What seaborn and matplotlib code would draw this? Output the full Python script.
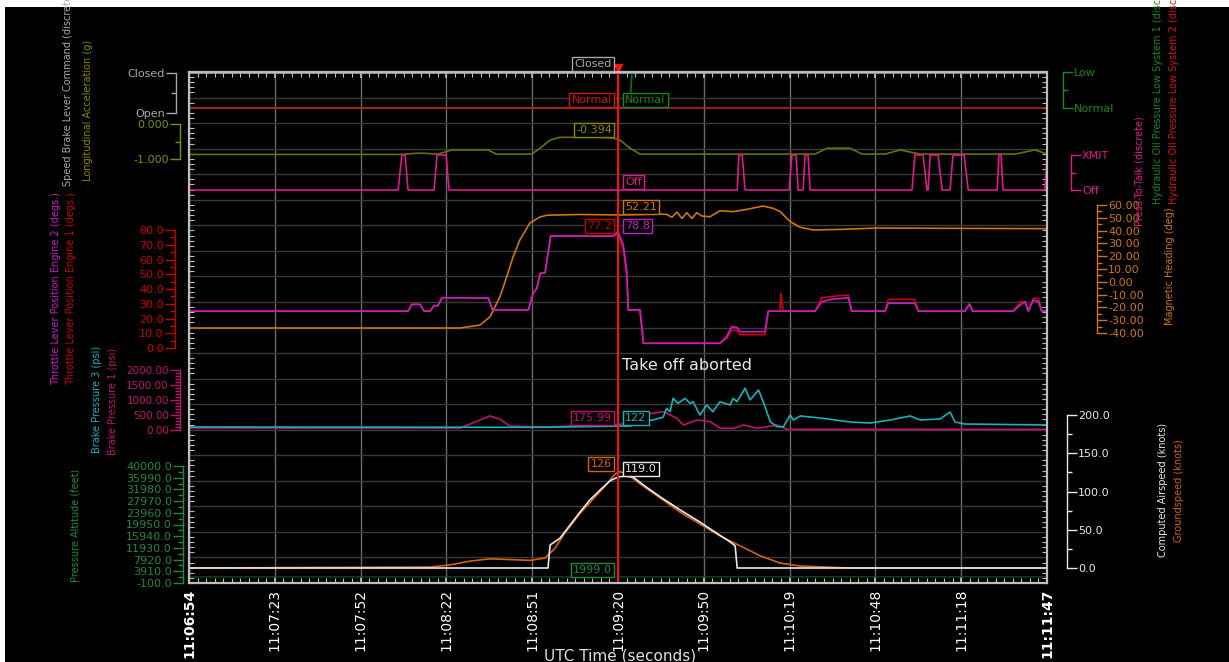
import numpy as np
import pandas as pd
import matplotlib
matplotlib.use("Agg")
import matplotlib.pyplot as plt
import seaborn as sns
from matplotlib.patches import Rectangle

# ---------------- data (time in seconds after 11:06:54) ----------------
TIME_LABELS = ['11:06:54', '11:07:23', '11:07:52', '11:08:22', '11:08:51', '11:09:20',
               '11:09:50', '11:10:19', '11:10:48', '11:11:18', '11:11:47']
T_END = 293.0
CURSOR_T = 146.5

brake_lever_t = [0, 293]
brake_lever_v = [1, 1]           # 1 = Closed, 0 = Open

hyd1_t = [0, 150.5, 151.3, 293]
hyd1_v = [0, 0, 1, 1]            # 0 = Normal, 1 = Low
hyd2_t = [0, 293]
hyd2_v = [0, 0]

acc_t = [0, 72.1, 78.9, 85.0, 89.8, 102.1, 104.9, 117.1, 119.9, 123.3, 126.7, 140.4, 144.5,
         147.2, 150.6, 154.0, 213.8, 217.9, 225.7, 229.9, 237.7, 242.8, 249.7, 282.1, 288.9, 293]
acc_v = [-0.87, -0.87, -0.83, -0.86, -0.74, -0.74, -0.86, -0.86, -0.69, -0.46, -0.38, -0.38, -0.394,
         -0.46, -0.69, -0.86, -0.86, -0.69, -0.69, -0.86, -0.86, -0.74, -0.86, -0.86, -0.74, -0.86]

ptt_t = [0, 71.4, 72.7, 73.8, 74.8, 83.7, 84.7, 87.8, 88.8, 187.2, 187.8, 188.9, 189.9,
         204.9, 205.9, 207.3, 208.0, 209.7, 210.4, 211.4, 212.1, 246.9, 247.9, 250.7, 252.0,
         252.4, 253.1, 255.8, 257.2, 259.9, 260.9, 264.7, 266.1, 276.0, 276.6, 277.3, 278.0,
         292.3, 293.0]
ptt_v = [0, 0, 1, 1, 0, 0, 1, 1, 0, 0, 1, 1, 0,
         0, 1, 1, 0, 0, 1, 1, 0, 0, 1, 1, 0,
         0, 1, 1, 0, 0, 1, 1, 0, 0, 1, 1, 0,
         0, 1]

hdg_t = [0, 92.6, 99.4, 102.8, 106.2, 108.5, 110.7, 113.0, 116.4, 119.8, 122.2, 133.5, 147.2,
         160.9, 163.2, 164.9, 166.6, 168.3, 170.0, 171.7, 173.4, 175.1, 177.9, 181.3, 185.8,
         190.5, 196.1, 199.5, 201.9, 205.3, 208.7, 213.2, 223.5, 234.9, 293]
hdg_v = [-36.1, -36.1, -33.8, -27.3, -11.6, 4.0, 19.6, 32.7, 45.9, 50.6, 52.0, 52.6, 52.2,
         53.0, 52.6, 50.4, 54.5, 49.5, 54.0, 49.5, 54.0, 51.4, 50.8, 55.5, 54.8,
         56.6, 59.2, 57.4, 54.8, 47.0, 42.6, 40.5, 41.0, 42.0, 41.5]

thr1_t = [0, 74.8, 76.1, 78.9, 80.3, 82.3, 83.7, 85.0, 86.4, 102.2, 103.7, 115.9, 117.5, 118.8,
          119.9, 121.6, 123.5, 144.9, 146.5, 148.3, 149.5, 150.0, 154.0, 155.2, 181.3, 183.6,
          185.3, 187.1, 188.2, 196.7, 197.8, 201.8, 202.1, 202.9, 213.8, 216.1, 221.2, 225.2,
          226.3, 237.7, 238.8, 247.9, 249.1, 265.0, 266.5, 267.6, 281.5, 283.8, 285.5, 286.6,
          288.3, 290.1, 291.2, 293]
thr1_v = [25, 25, 29.6, 29.6, 25, 25, 28.7, 28.7, 34.1, 33.9, 25.8, 25.8, 37.1, 40.5,
          50.6, 51.1, 75.9, 75.9, 77.2, 66.4, 48.3, 25.8, 25.8, 3.2, 3.2, 6.5,
          12.0, 12.0, 9.0, 9.0, 25, 25, 37.1, 25, 25, 34.1, 35.3, 35.9,
          25, 25, 33.0, 33.0, 25, 25, 29.8, 25, 25, 31.4, 31.4, 25,
          33.7, 33.7, 25, 25]

thr2_t = [0, 74.8, 76.1, 78.9, 80.3, 82.3, 83.7, 85.0, 86.4, 102.2, 103.7, 115.9, 117.5, 118.8,
          119.9, 121.6, 123.5, 144.9, 146.5, 148.3, 149.5, 150.0, 154.0, 155.2, 181.3, 183.6,
          185.3, 187.1, 188.2, 196.7, 197.8, 213.8, 216.1, 219.5, 225.2, 226.3, 237.7, 238.8,
          247.9, 249.1, 265.0, 266.5, 267.6, 281.5, 283.8, 285.5, 286.6, 288.3, 290.1, 291.2, 293]
thr2_v = [25, 25, 29.6, 29.6, 25, 25, 28.7, 28.7, 34.1, 33.9, 25.8, 25.8, 37.1, 40.5,
          50.6, 51.1, 75.9, 75.9, 78.8, 70.0, 52.0, 25.8, 25.8, 3.2, 3.2, 7.7,
          14.4, 14.0, 11.1, 11.1, 25, 25, 31.4, 33.0, 34.1, 25, 25, 30.3,
          30.3, 25, 25, 29.8, 25, 25, 29.2, 31.4, 25, 32.5, 31.4, 25, 25]

bp3_t = [0, 119.9, 150.6, 151.6, 154.0, 158.4, 161.9, 163.1, 164.3, 165.3, 167.0, 169.4, 171.1,
         172.1, 174.5, 176.8, 178.9, 181.3, 184.8, 185.8, 187.1, 188.2, 189.9, 191.6, 194.5,
         196.1, 198.5, 200.8, 203.0, 205.3, 206.4, 208.7, 215.5, 225.8, 232.6, 239.4, 242.8,
         246.3, 249.7, 256.5, 259.9, 261.6, 265.0, 293]
bp3_v = [100, 90, 133, 167, 277, 333, 423, 723, 610, 1057, 890, 1057, 890,
         943, 500, 833, 610, 943, 833, 1057, 943, 1110, 1390, 1000, 1333,
         943, 277, 110, 110, 500, 333, 467, 400, 267, 233, 333, 400,
         467, 333, 367, 600, 267, 200, 167]

bp1_t = [0, 92.6, 97.7, 102.8, 106.2, 109.6, 119.9, 146.5, 151.3, 154.0, 162.1, 166.6, 168.9,
         173.5, 178.0, 181.4, 186.0, 189.4, 193.9, 200.8, 204.2, 207.6, 293]
bp1_v = [67, 67, 267, 467, 357, 133, 100, 176, 260, 500, 610, 390, 167,
         333, 277, 57, 57, 167, 57, 167, 23, 23, 23]

alt_t = [0, 100, 146.5, 200, 293]
alt_v = [1990, 2000, 1999, 2010, 2000]

cas_t = [0, 122.6, 123.3, 126.7, 130.1, 133.5, 136.9, 140.4, 143.8, 146.5, 148.9, 151.6, 155.7,
         160.9, 167.7, 174.5, 179.6, 184.8, 186.5, 187.2, 293]
cas_v = [0, 0, 30, 39, 56, 73, 89, 102, 114, 119, 120, 119, 107,
         93, 76, 60, 47, 34, 29, 0, 0]

gs_t = [0, 82.3, 89.1, 96.0, 102.8, 116.5, 121.6, 125.0, 128.4, 133.5, 138.7, 142.1, 145.5,
        147.2, 149.9, 154.0, 160.9, 167.7, 174.5, 181.3, 188.2, 195.0, 201.8, 208.7, 225.8, 293]
gs_v = [0, 1.3, 4, 9, 12, 10, 13, 26, 46, 71, 93, 107, 123,
        126, 122, 110, 91.5, 73, 57.5, 42, 29, 16, 6.5, 2.6, 0, 0]

# ---------------- colours ----------------
C_GREY = '#a8a8a8'
C_OLIVE = '#8a8a00'
C_PTT = '#e0188c'
C_HYD1 = '#168a16'
C_HYD2 = '#d01414'
C_HYD2_LINE = '#c0200a'
C_HDG = '#d2740c'
C_THR1 = '#cc0000'
C_THR2 = '#c81ec8'
C_BP3 = '#12b4bc'
C_BP1 = '#c2126e'
C_ALT = '#1c8c3c'
C_CAS = '#e8e8e8'
C_GS = '#d8600e'
C_CURSOR = '#ff1010'
C_FRAME = '#bdbdbd'

# ---------------- figure ----------------
W, H = 1229, 662
sns.set_theme(style='ticks')
plt.rcParams['font.family'] = ['DejaVu Sans']

L, R, TOP, BOT = 189, 1047, 72, 583
RECT = [L / W, 1 - BOT / H, (R - L) / W, (BOT - TOP) / H]

fig = plt.figure(figsize=(W / 100, H / 100), dpi=100, facecolor='white')
fig.patches.append(Rectangle((5 / W, 0), 1 - 5 / W, 1 - 7 / H, transform=fig.transFigure,
                             facecolor='black', edgecolor='none', zorder=-10))

ax0 = fig.add_axes(RECT)
ax0.set_facecolor('black')
ax0.set_xlim(0, T_END)
ax0.set_ylim(0, 20)
xt = np.linspace(0, T_END, len(TIME_LABELS))
ax0.set_xticks(xt)
ax0.set_xticklabels(TIME_LABELS)
ax0.set_xticks(np.linspace(0, T_END, 101), minor=True)
ax0.set_yticks(np.arange(1, 20))
ax0.set_yticks(np.linspace(0, 20, 101), minor=True)
for sp in ax0.spines.values():
    sp.set_color(C_FRAME)
    sp.set_linewidth(1.2)
ax0.tick_params(axis='both', which='minor', direction='in', length=3.5, width=0.8,
                color=C_FRAME, top=True, right=True, bottom=True, left=True)
ax0.tick_params(axis='y', which='major', length=0, labelleft=False)
ax0.tick_params(axis='x', which='major', direction='in', length=4, color=C_FRAME,
                labelcolor='white', labelsize=10, labelrotation=90, pad=4, top=True)
for i, lab in enumerate(ax0.get_xticklabels()):
    lab.set_fontweight('bold' if i in (0, len(TIME_LABELS) - 1) else 'normal')
ax0.yaxis.grid(True, color='#3a3a3a', lw=1.0)
ax0.xaxis.grid(True, color='#6a6a6a', lw=1.0)


def channel(side, out_px, v0, p0, v1, p1, major, minor, color, labels=None, fmt='{:.1f}', size=8):
    ax = fig.add_axes(RECT, sharex=ax0)
    ax.patch.set_visible(False)
    s = (v1 - v0) / (p1 - p0)
    ax.set_ylim(v0 + (BOT - p0) * s, v0 + (TOP - p0) * s)
    for k, sp in ax.spines.items():
        sp.set_visible(k == side)
    sp = ax.spines[side]
    sp.set_position(('outward', out_px * 0.72))
    sp.set_bounds(min(v0, v1), max(v0, v1))
    sp.set_color(color)
    sp.set_linewidth(1.0)
    ax.yaxis.set_ticks_position(side)
    ax.set_yticks(major)
    ax.set_yticks(minor, minor=True)
    ax.set_yticklabels(labels if labels else [fmt.format(v) for v in major])
    ax.tick_params(axis='y', which='major', direction='out', length=7, width=1,
                   color=color, labelcolor=color, labelsize=size, pad=1)
    ax.tick_params(axis='y', which='minor', direction='out', length=3.5, width=1, color=color)
    ax.tick_params(axis='x', which='both', bottom=False, top=False, labelbottom=False)
    return ax


def line(ax, t, v, color, lw=1.2):
    df = pd.DataFrame({'t': t, 'v': v})
    sns.lineplot(data=df, x='t', y='v', ax=ax, color=color, lw=lw, estimator=None,
                 errorbar=None, legend=False)
    ax.set_xlabel('')
    ax.set_ylabel('')


# speed brake
ax_sb = channel('left', 13, 0, 113, 1, 72.5, [0, 1], [0.5], C_GREY, labels=['Open', 'Closed'])
line(ax_sb, brake_lever_t, brake_lever_v, C_GREY)
# hydraulic
ax_hy = channel('right', 16, 0, 108, 1, 72.3, [0, 1], [0.5], C_HYD1, labels=['Normal', 'Low'])
line(ax_hy, hyd1_t, hyd1_v, '#0f700f')
line(ax_hy, hyd2_t, hyd2_v, C_HYD2_LINE)
# longitudinal acceleration
ax_ac = channel('left', 9, 0, 124, -1, 159, [-1, 0], [-0.5], C_OLIVE, fmt='{:.3f}')
line(ax_ac, acc_t, acc_v, '#6e6e00')
# press to talk
ax_pt = channel('right', 24, 0, 190, 1, 155, [0, 1], [0.5], C_PTT, labels=['Off', 'XMIT'])
line(ax_pt, ptt_t, ptt_v, C_PTT)
# heading
ax_hd = channel('right', 50, -40, 333, 60, 205, list(range(-40, 61, 10)),
                list(range(-35, 60, 10)), C_HDG, fmt='{:.2f}')
line(ax_hd, hdg_t, hdg_v, C_HDG)
# throttle
ax_th = channel('left', 14, 0, 348, 80, 230, list(range(0, 81, 10)),
                list(range(5, 80, 10)), C_THR1, fmt='{:.1f}')
line(ax_th, thr1_t, thr1_v, C_THR1)
line(ax_th, thr2_t, thr2_v, C_THR2)
# brake pressure
ax_bp = channel('left', 9, 0, 430, 2000, 370, list(range(0, 2001, 500)),
                [v for v in range(100, 2000, 100) if v % 500], C_BP1, fmt='{:.2f}', size=7.5)
line(ax_bp, bp1_t, bp1_v, C_BP1)
line(ax_bp, bp3_t, bp3_v, C_BP3)
# altitude
alt_major = [-100, 3910, 7920, 11930, 15940, 19950, 23960, 27970, 31980, 35990, 40000]
alt_minor = [(a + b) / 2 for a, b in zip(alt_major[:-1], alt_major[1:])]
ax_al = channel('left', 6, -100, 583, 40000, 466, alt_major, alt_minor, C_ALT, fmt='{:.1f}')
line(ax_al, alt_t, alt_v, '#0c4a1c', lw=1.0)
# airspeed / groundspeed
ax_sp = channel('right', 20, 0, 568, 200, 415, list(range(0, 201, 50)),
                list(range(25, 200, 50)), C_CAS, fmt='{:.1f}')
line(ax_sp, gs_t, gs_v, C_GS)
line(ax_sp, cas_t, cas_v, C_CAS)

# cursor overlay (also redraws the plot frame above the traces)
axc = fig.add_axes(RECT, sharex=ax0)
axc.patch.set_visible(False)
axc.set_ylim(0, 20)
axc.tick_params(which='both', left=False, bottom=False, labelleft=False, labelbottom=False)
for sp in axc.spines.values():
    sp.set_color(C_FRAME)
    sp.set_linewidth(1.6)
axc.axvline(CURSOR_T, ymin=0, ymax=1.012, color=C_CURSOR, lw=1.4, clip_on=False)
axc.plot([CURSOR_T], [20.15], marker='v', ms=6, color=C_CURSOR, clip_on=False)


def fx(x):
    return x / W


def fy(y):
    return 1 - y / H


def tag(xp, yp, text, color, ha):
    fig.text(fx(xp), fy(yp), text, color=color, ha=ha, va='center', fontsize=8,
             bbox=dict(boxstyle='square,pad=0.22', fc='black', ec=color, lw=1))


tag(612, 64, 'Closed', C_GREY, 'right')
tag(612, 100, 'Normal', C_HYD2, 'right')
tag(625, 100, 'Normal', C_HYD1, 'left')
tag(612, 130, '-0.394', C_OLIVE, 'right')
tag(625, 182, 'Off', C_PTT, 'left')
tag(625, 207, '52.21', C_HDG, 'left')
tag(612, 226, '77.2', C_THR1, 'right')
tag(625, 226, '78.8', C_THR2, 'left')
tag(612, 418, '175.99', C_BP1, 'right')
tag(625, 418, '122', C_BP3, 'left')
tag(612, 464, '126', C_GS, 'right')
tag(625, 469, '119.0', C_CAS, 'left')
tag(612, 570, '1999.0', C_ALT, 'right')

fig.text(fx(622), fy(366), 'Take off aborted', color='#e8e8e8', fontsize=11.5,
         ha='left', va='center')
fig.text(fx(620), fy(656), 'UTC Time (seconds)', color='#e0e0e0', fontsize=11,
         ha='center', va='center')


def vlabel(x, y, text, color, va='center'):
    fig.text(fx(x), fy(y), text, color=color, rotation=90, fontsize=7, ha='center', va=va)


vlabel(68, 186, 'Speed Brake Lever Command (discrete)', C_GREY, va='bottom')
vlabel(88, 181, 'Longitudinal Acceleration (g)', C_OLIVE, va='bottom')
vlabel(56, 289, 'Throttle Lever Position Engine 2 (degs.)', C_THR2)
vlabel(71, 289, 'Throttle Lever Position Engine 1 (degs.)', C_THR1)
vlabel(97, 399, 'Brake Pressure 3 (psi)', C_BP3)
vlabel(113, 401, 'Brake Pressure 1 (psi)', C_BP1)
vlabel(76, 525, 'Pressure Altitude (feet)', C_ALT)
vlabel(1140, 171, 'Press-To-Talk (discrete)', C_PTT)
vlabel(1158, 204, 'Hydraulic Oil Pressure Low System 1 (discrete)', C_HYD1, va='bottom')
vlabel(1174, 204, 'Hydraulic Oil Pressure Low System 2 (discrete)', C_HYD2, va='bottom')
vlabel(1170, 266, 'Magnetic Heading (deg)', C_HDG)
vlabel(1163, 490, 'Computed Airspeed (knots)', C_CAS)
vlabel(1179, 491, 'Groundspeed (knots)', C_GS)

fig.savefig('out.png', dpi=100, facecolor=fig.get_facecolor())
